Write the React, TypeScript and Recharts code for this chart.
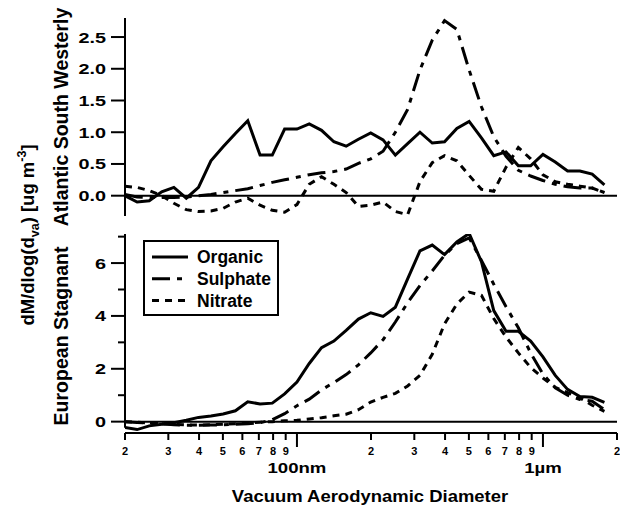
import React from "react";
import { LineChart, Line, XAxis, YAxis, ReferenceLine, Legend } from "recharts";

const FONT = '"Liberation Sans", Arial, Helvetica, sans-serif';

// bin centres (nm), 20 bins per decade
const diameters = [
  20, 22.4, 25.1, 28.2, 31.6, 35.5, 39.8, 44.7, 50.1, 56.2, 63.1, 70.8, 79.4, 89.1, 100, 112.2, 125.9, 141.3,
  158.5, 177.8, 199.5, 223.9, 251.2, 281.8, 316.2, 354.8, 398.1, 446.7, 501.2, 562.3, 631, 707.9, 794.3, 891.3,
  1000, 1122, 1259, 1413, 1585, 1778,
];

// Atlantic South Westerly
const atlOrganic = [
  0.0, -0.1, -0.08, 0.06, 0.13, -0.04, 0.13, 0.55, 0.77, 0.98, 1.18, 0.64, 0.64, 1.05, 1.05, 1.13, 1.03, 0.85, 0.78,
  0.89, 0.99, 0.88, 0.64, 0.82, 1.0, 0.83, 0.85, 1.06, 1.17, 0.91, 0.63, 0.69, 0.47, 0.47, 0.65, 0.53, 0.39, 0.39,
  0.34, 0.17,
];
const atlSulphate = [
  0.02, -0.02, -0.03, -0.03, -0.03, -0.02, 0.0, 0.02, 0.05, 0.08, 0.11, 0.16, 0.21, 0.25, 0.29, 0.33, 0.36, 0.38,
  0.42, 0.51, 0.58, 0.7, 1.0, 1.36, 1.98, 2.45, 2.76, 2.62, 1.98, 1.4, 0.93, 0.62, 0.4, 0.31, 0.24, 0.18, 0.14, 0.12,
  0.12, 0.05,
];
const atlNitrate = [
  0.15, 0.13, 0.08, 0.0, -0.12, -0.22, -0.25, -0.24, -0.2, -0.1, -0.04, -0.15, -0.23, -0.26, -0.14, 0.18, 0.3, 0.18,
  0.05, -0.17, -0.15, -0.1, -0.25, -0.3, 0.22, 0.52, 0.63, 0.55, 0.32, 0.1, 0.07, 0.45, 0.76, 0.58, 0.33, 0.22, 0.18,
  0.15, 0.12, 0.05,
];

// European Stagnant
const eurOrganic = [
  -0.22, -0.3, -0.16, -0.1, -0.04, 0.05, 0.16, 0.21, 0.29, 0.41, 0.75, 0.67, 0.7, 1.05, 1.5, 2.2, 2.8, 3.05, 3.45,
  3.88, 4.12, 3.98, 4.33, 5.4, 6.46, 6.68, 6.32, 6.8, 7.12, 6.05, 4.2, 3.42, 3.42, 3.05, 2.45, 1.75, 1.22, 0.95, 0.92,
  0.73,
];
const eurSulphate = [
  0.0, -0.03, -0.05, -0.08, -0.12, -0.14, -0.14, -0.13, -0.12, -0.1, -0.08, -0.04, 0.07, 0.3, 0.6, 0.85, 1.2, 1.48,
  1.78, 2.15, 2.6, 3.1, 3.77, 4.5, 5.15, 5.7, 6.3, 6.74, 6.95, 6.1, 5.2, 4.35, 3.55, 2.6, 1.8, 1.28, 1.0, 0.84, 0.77,
  0.45,
];
const eurNitrate = [
  0.0, -0.02, -0.05, -0.08, -0.1, -0.12, -0.13, -0.12, -0.1, -0.08, -0.05, -0.02, 0.0, 0.03, 0.05, 0.1, 0.15, 0.22,
  0.28, 0.45, 0.74, 0.92, 1.07, 1.35, 1.75, 2.55, 3.7, 4.45, 4.9, 4.78, 3.9, 3.2, 2.6, 2.05, 1.65, 1.3, 1.1, 0.9, 0.62,
  0.39,
];

const xTicks = [20, 30, 40, 50, 60, 70, 80, 90, 100, 200, 300, 400, 500, 600, 700, 800, 900, 1000, 2000];
const xTickLabels = ["2", "3", "4", "5", "6", "7", "8", "9", "100nm", "2", "3", "4", "5", "6", "7", "8", "9", "1µm", "2"];
const atlTicks = [0, 0.5, 1, 1.5, 2, 2.5];
const atlTickLabels = ["0.0", "0.5", "1.0", "1.5", "2.0", "2.5"];
const eurTicks = [0, 1, 2, 3, 4, 5, 6, 7];
const eurTickLabels = ["0", "", "2", "", "4", "", "6", ""];

const series = [
  { key: "organic", name: "Organic", dash: undefined as string | undefined },
  { key: "sulphate", name: "Sulphate", dash: "18 7 5 7" },
  { key: "nitrate", name: "Nitrate", dash: "7 6" },
];

const atlData = diameters.map((d, i) => ({
  d,
  organic: atlOrganic[i],
  sulphate: atlSulphate[i],
  nitrate: atlNitrate[i],
}));
const eurData = diameters.map((d, i) => ({
  d,
  organic: eurOrganic[i],
  sulphate: eurSulphate[i],
  nitrate: eurNitrate[i],
}));

const XTick = (props: any) => {
  const { x, y, payload } = props;
  const label = xTickLabels[xTicks.indexOf(payload.value)];
  const major = label.length > 1;
  return (
    <g>
      <line x1={x} x2={x} y1={y} y2={y + (major ? 14 : 7)} stroke="#000" strokeWidth={2} />
      {major ? (
        <text
          transform={`translate(${x},${y + 39.5}) scale(1.2,1)`}
          textAnchor="middle"
          fontSize={15.5}
          fontWeight="bold"
          fontFamily={FONT}
          fill="#000"
        >
          {label}
        </text>
      ) : (
        <text x={x} y={y + 22} textAnchor="middle" fontSize={11} fontWeight="bold" fontFamily={FONT} fill="#000">
          {label}
        </text>
      )}
    </g>
  );
};

const makeYTick = (ticks: number[], labels: string[]) => (props: any) => {
  const { x, y, payload } = props;
  const label = labels[ticks.indexOf(payload.value)];
  const len = label ? 14 : 7;
  return (
    <g>
      <line x1={x - len} x2={x} y1={y} y2={y} stroke="#000" strokeWidth={2} />
      {label ? (
        <text
          transform={`translate(${x - 19},${y + 5.5}) scale(1.28,1)`}
          textAnchor="end"
          fontSize={15.5}
          fontWeight="bold"
          fontFamily={FONT}
          fill="#000"
        >
          {label}
        </text>
      ) : null}
    </g>
  );
};

const AtlYTick = makeYTick(atlTicks, atlTickLabels);
const EurYTick = makeYTick(eurTicks, eurTickLabels);

const LegendBox = () => (
  <svg width={136} height={76} style={{ display: "block" }}>
    <rect x={1} y={1} width={134} height={74} fill="#fff" stroke="#000" strokeWidth={2} />
    {series.map((s, i) => {
      const cy = 17 + i * 21.8;
      return (
        <g key={s.key}>
          <line x1={9} x2={45} y1={cy} y2={cy} stroke="#000" strokeWidth={3} strokeDasharray={s.dash} />
          <text x={54} y={cy + 6.3} fontSize={17.5} fontWeight="bold" fontFamily={FONT} fill="#000">
            {s.name}
          </text>
        </g>
      );
    })}
  </svg>
);

const renderLines = () =>
  series.map((s) => (
    <Line
      key={s.key}
      type="linear"
      dataKey={s.key}
      name={s.name}
      stroke="#000"
      strokeWidth={3}
      strokeDasharray={s.dash}
      dot={false}
      isAnimationActive={false}
    />
  ));

const layer: React.CSSProperties = { position: "absolute", left: 0, top: 0 };

export default function App() {
  return (
    <div style={{ position: "absolute", left: 0, top: 0, width: 620, height: 506, background: "#fff" }}>
      <div style={layer}>
        <LineChart width={620} height={506} data={atlData} margin={{ top: 18, right: 3, bottom: 290, left: 65 }}>
          <XAxis dataKey="d" type="number" scale="log" domain={[20, 2000]} ticks={xTicks} hide height={0} allowDataOverflow />
          <YAxis
            type="number"
            domain={[-0.32, 2.8]}
            ticks={atlTicks}
            interval={0}
            width={60}
            tickSize={0}
            tickMargin={0}
            tickLine={false}
            axisLine={{ stroke: "#000", strokeWidth: 2 }}
            tick={(p: any) => <AtlYTick {...p} />}
            allowDataOverflow
          />
          <ReferenceLine y={0} stroke="#000" strokeWidth={2} />
          {renderLines()}
        </LineChart>
      </div>
      <div style={layer}>
        <LineChart width={620} height={506} data={eurData} margin={{ top: 234, right: 3, bottom: 13, left: 65 }}>
          <XAxis
            dataKey="d"
            type="number"
            scale="log"
            domain={[20, 2000]}
            ticks={xTicks}
            interval={0}
            height={60}
            tickSize={0}
            tickMargin={0}
            tickLine={false}
            axisLine={{ stroke: "#000", strokeWidth: 2 }}
            tick={(p: any) => <XTick {...p} />}
            allowDataOverflow
          />
          <YAxis
            type="number"
            domain={[-0.43, 7.1]}
            ticks={eurTicks}
            interval={0}
            width={60}
            tickSize={0}
            tickMargin={0}
            tickLine={false}
            axisLine={false}
            tick={(p: any) => <EurYTick {...p} />}
            allowDataOverflow
          />
          <ReferenceLine
            segment={[
              { x: 20, y: -0.23 },
              { x: 20, y: 7.1 },
            ]}
            stroke="#000"
            strokeWidth={2}
          />
          <ReferenceLine y={0} stroke="#000" strokeWidth={2} />
          <Legend
            layout="vertical"
            align="center"
            verticalAlign="middle"
            width={136}
            height={76}
            wrapperStyle={{ left: 143, top: 240, width: 136, height: 76 }}
            content={() => <LegendBox />}
          />
          {renderLines()}
        </LineChart>
      </div>
      <svg width={620} height={506} style={{ ...layer, pointerEvents: "none" }}>
        <g fontFamily={FONT} fontWeight="bold" fill="#000">
          <text transform="translate(68,117) rotate(-90)" textAnchor="middle" fontSize={19.5}>
            Atlantic South Westerly
          </text>
          <text transform="translate(68,336) rotate(-90)" textAnchor="middle" fontSize={19.5}>
            European Stagnant
          </text>
          <text transform="translate(34,235) rotate(-90)" textAnchor="middle" fontSize={18.5}>
            dM/dlog(d
            <tspan fontSize={12.5} dy={5}>
              va
            </tspan>
            <tspan dy={-5}>) [ug m</tspan>
            <tspan fontSize={12.5} dy={-8}>
              -3
            </tspan>
            <tspan dy={8}>]</tspan>
          </text>
          <text transform="translate(370,501.7) scale(1.12,1)" textAnchor="middle" fontSize={16.5}>
            Vacuum Aerodynamic Diameter
          </text>
        </g>
      </svg>
    </div>
  );
}
